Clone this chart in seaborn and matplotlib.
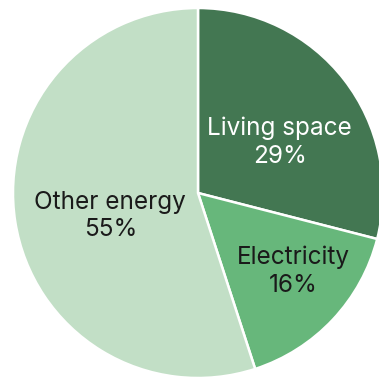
import matplotlib
matplotlib.use("Agg")
import matplotlib.pyplot as plt
import seaborn as sns
import numpy as np

categories = ["Living space", "Electricity", "Other energy"]
values = [29, 16, 55]
colors = ["#437752", "#67b77b", "#c2dfc6"]
text_colors = ["white", "#1a1a1a", "#1a1a1a"]
label_radius = [0.52, 0.665, 0.49]
label_angle_shift = [-5.9, 3.8, 5.6]

sns.set_theme(style="white")
plt.rcParams["font.family"] = ["Inter", "DejaVu Sans"]

fig = plt.figure(figsize=(3.79, 3.78), dpi=100)
ax = fig.add_axes([13 / 379, (378 - 193 - 185) / 378, 370 / 379, 370 / 378])
wedges, _ = ax.pie(values, colors=colors, startangle=90, counterclock=False,
                   wedgeprops=dict(edgecolor="white", linewidth=1.8))
for w, cat, v, tc, r, s in zip(wedges, categories, values, text_colors,
                               label_radius, label_angle_shift):
    ang = np.deg2rad((w.theta1 + w.theta2) / 2 + s)
    ax.text(r * np.cos(ang), r * np.sin(ang), f"{cat}\n{v}%", ha="center", va="center",
            color=tc, fontsize=17.5, linespacing=1.25)
ax.set_xlim(-1, 1)
ax.set_ylim(-1, 1)
ax.set_axis_off()
fig.patch.set_facecolor("white")
fig.savefig("out.png", dpi=100)
